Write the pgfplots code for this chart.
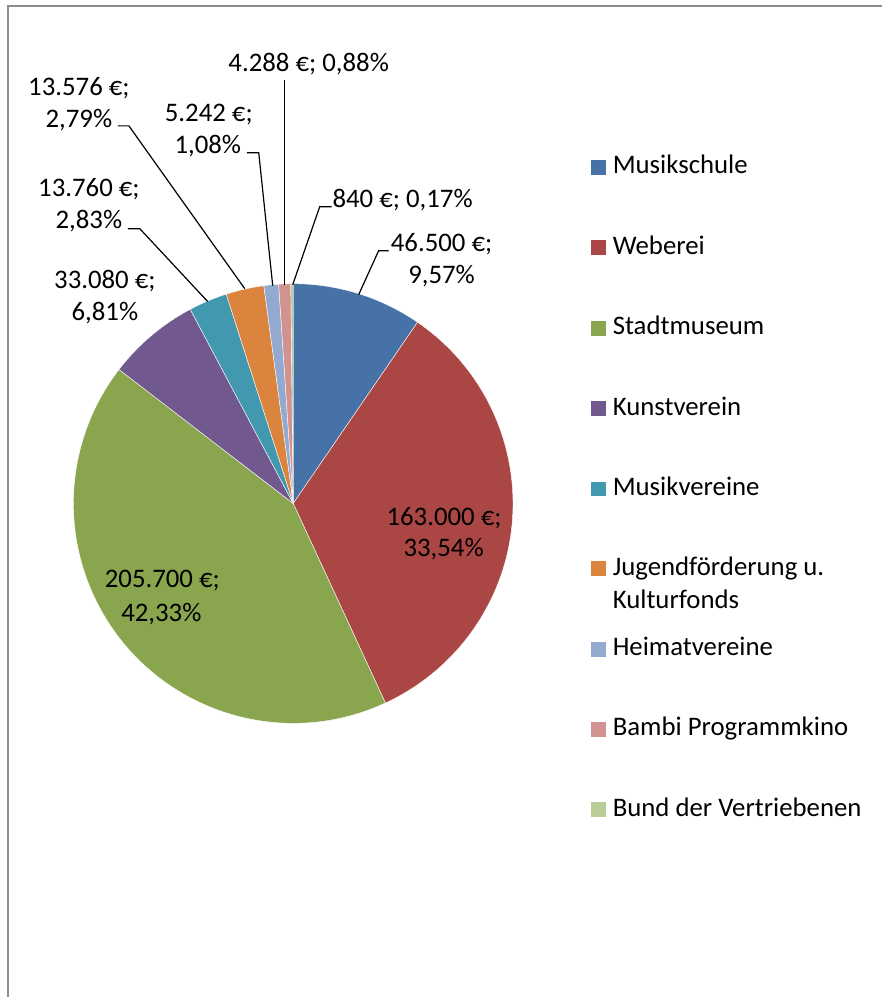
\documentclass[border=0pt]{standalone}
\usepackage{fontspec}
\setmainfont{Carlito}
\usepackage{pgfplots}
\usepackage{pgfplotstable}
\pgfplotsset{compat=1.18}

% Excel 2007 palette
\definecolor{c0}{HTML}{4672A8}
\definecolor{c1}{HTML}{AA4644}
\definecolor{c2}{HTML}{89A54E}
\definecolor{c3}{HTML}{71588F}
\definecolor{c4}{HTML}{4198AF}
\definecolor{c5}{HTML}{DB843D}
\definecolor{c6}{HTML}{93A9CF}
\definecolor{c7}{HTML}{D19392}
\definecolor{c8}{HTML}{B9CD96}
\definecolor{framegray}{HTML}{8C8C8C}

% Euro per recipient
\pgfplotstableread{
id value
Musikschule 46500
Weberei 163000
Stadtmuseum 205700
Kunstverein 33080
Musikvereine 13760
Jugendfoerderung 13576
Heimatvereine 5242
Bambi 4288
BdV 840
}\budget

\newcommand\lf{\fontsize{13.4}{16}\selectfont}

\begin{document}
\begin{tikzpicture}
% cumulative angles, clockwise from 12 o'clock
\gdef\total{0}
\foreach \i in {0,...,8}{%
  \pgfplotstablegetelem{\i}{value}\of\budget
  \xdef\total{\fpeval{\total+\pgfplotsretval}}%
}
\gdef\cum{0}
\foreach \i in {0,...,8}{%
  \pgfplotstablegetelem{\i}{value}\of\budget
  \expandafter\xdef\csname sa\i\endcsname{\fpeval{90-360*\cum/\total}}%
  \xdef\cum{\fpeval{\cum+\pgfplotsretval}}%
  \expandafter\xdef\csname ea\i\endcsname{\fpeval{90-360*\cum/\total}}%
}
\begin{axis}[
  x=0.5pt, y=0.5pt,
  xmin=0, xmax=883, ymin=0, ymax=998,
  hide axis, clip=false,
]
\fill[white] (axis cs:0,0) rectangle (axis cs:883,998);
\draw[framegray, line width=1pt] (axis cs:8,0) -- (axis cs:8,992) -- (axis cs:883,992);

\pgfplotsinvokeforeach{0,...,8}{
  \filldraw[fill=c#1, draw=white, line width=0.2pt]
    (axis cs:293.5,494) -- ++(\csname sa#1\endcsname:110pt)
    arc[start angle=\csname sa#1\endcsname, end angle=\csname ea#1\endcsname, radius=110pt] -- cycle;
}

% leader lines
\draw[black, line width=0.6pt] (axis cs:118,872) -- (axis cs:129,872) -- (axis cs:245,709);
\draw[black, line width=0.6pt] (axis cs:247,845) -- (axis cs:259,845) -- (axis cs:273,712);
\draw[black, line width=0.6pt] (axis cs:128,769) -- (axis cs:140,769) -- (axis cs:208,696);
\draw[black, line width=0.6pt] (axis cs:285,918) -- (axis cs:285,713);
\draw[black, line width=0.6pt] (axis cs:332,791) -- (axis cs:320,791) -- (axis cs:293,713);
\draw[black, line width=0.6pt] (axis cs:389,747) -- (axis cs:379,747) -- (axis cs:359,703);

% data labels
\tikzset{lab/.style={anchor=base, inner sep=0pt, font=\lf}}
\node[lab] at (axis cs:79,902) {13.576 €;};
\node[lab] at (axis cs:79,870) {2,79\%};
\node[lab] at (axis cs:209,876) {5.242 €;};
\node[lab] at (axis cs:208,844) {1,08\%};
\node[lab] at (axis cs:89,801) {13.760 €;};
\node[lab] at (axis cs:89,769) {2,83\%};
\node[lab] at (axis cs:105,709) {33.080 €;};
\node[lab] at (axis cs:105,677) {6,81\%};
\node[lab] at (axis cs:309,926) {4.288 €; 0,88\%};
\node[lab] at (axis cs:403,790) {840 €; 0,17\%};
\node[lab] at (axis cs:442,746) {46.500 €;};
\node[lab] at (axis cs:442,714) {9,57\%};
\node[lab] at (axis cs:444.5,472) {163.000 €;};
\node[lab] at (axis cs:444,441) {33,54\%};
\node[lab] at (axis cs:162.5,410) {205.700 €;};
\node[lab] at (axis cs:161.5,376) {42,33\%};

% legend
\tikzset{leg/.style={anchor=base west, inner sep=0pt, font=\lf}}
\fill[c0] (axis cs:592,823) rectangle (axis cs:607,838);
\node[leg] at (axis cs:613,824) {Musikschule};
\fill[c1] (axis cs:592,742.5) rectangle (axis cs:607,757.5);
\node[leg] at (axis cs:613,743.5) {Weberei};
\fill[c2] (axis cs:592,662) rectangle (axis cs:607,677);
\node[leg] at (axis cs:613,663) {Stadtmuseum};
\fill[c3] (axis cs:592,581.5) rectangle (axis cs:607,596.5);
\node[leg] at (axis cs:613,582.5) {Kunstverein};
\fill[c4] (axis cs:592,501) rectangle (axis cs:607,516);
\node[leg] at (axis cs:613,502) {Musikvereine};
\fill[c5] (axis cs:592,421) rectangle (axis cs:607,436);
\node[leg] at (axis cs:613,422) {Jugendförderung u.};
\node[leg] at (axis cs:613,389) {Kulturfonds};
\fill[c6] (axis cs:592,340.5) rectangle (axis cs:607,355.5);
\node[leg] at (axis cs:613,341.5) {Heimatvereine};
\fill[c7] (axis cs:592,260.5) rectangle (axis cs:607,275.5);
\node[leg] at (axis cs:613,261.5) {Bambi Programmkino};
\fill[c8] (axis cs:592,180) rectangle (axis cs:607,195);
\node[leg] at (axis cs:613,181) {Bund der Vertriebenen};
\end{axis}
\end{tikzpicture}
\end{document}
